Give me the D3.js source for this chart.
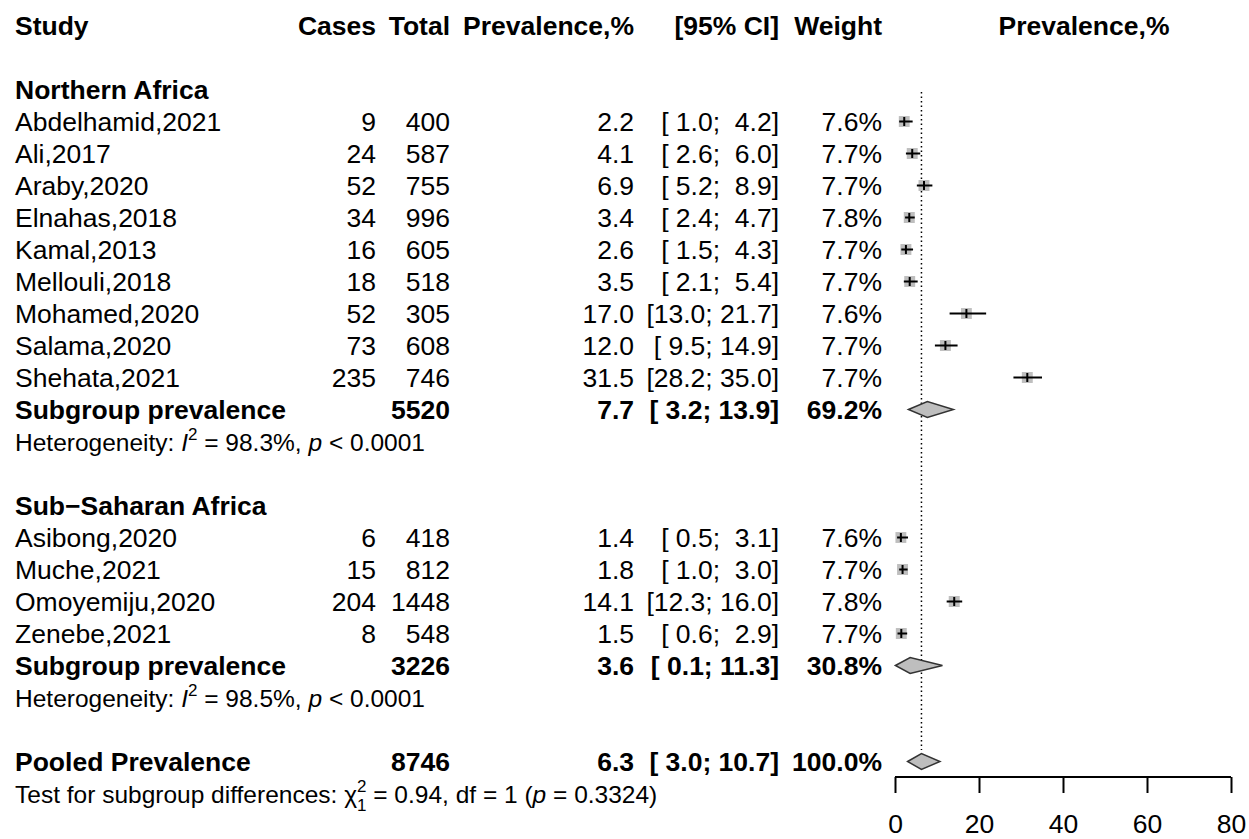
<!DOCTYPE html>
<html>
<head>
<meta charset="utf-8" />
<title>Forest plot</title>
<script src="https://d3js.org/d3.v7.min.js"></script>
<style>
  body { margin: 0; background: #fff; }
  text { font-family: "Liberation Sans", Arial, sans-serif; fill: #000; white-space: pre; }
</style>
</head>
<body>
<svg id="forest" width="1249" height="839"></svg>
<script>
// study data
var groups = ["Northern Africa", "Sub\u2212Saharan Africa"];
var studies = ["Abdelhamid,2021", "Ali,2017", "Araby,2020", "Elnahas,2018", "Kamal,2013",
  "Mellouli,2018", "Mohamed,2020", "Salama,2020", "Shehata,2021",
  "Asibong,2020", "Muche,2021", "Omoyemiju,2020", "Zenebe,2021"];
var studyGroup = [0, 0, 0, 0, 0, 0, 0, 0, 0, 1, 1, 1, 1];
var cases = [9, 24, 52, 34, 16, 18, 52, 73, 235, 6, 15, 204, 8];
var totals = [400, 587, 755, 996, 605, 518, 305, 608, 746, 418, 812, 1448, 548];
var prev = [2.2, 4.1, 6.9, 3.4, 2.6, 3.5, 17.0, 12.0, 31.5, 1.4, 1.8, 14.1, 1.5];
var lower = [1.0, 2.6, 5.2, 2.4, 1.5, 2.1, 13.0, 9.5, 28.2, 0.5, 1.0, 12.3, 0.6];
var upper = [4.2, 6.0, 8.9, 4.7, 4.3, 5.4, 21.7, 14.9, 35.0, 3.1, 3.0, 16.0, 2.9];
var weights = [7.6, 7.7, 7.7, 7.8, 7.7, 7.7, 7.6, 7.7, 7.7, 7.6, 7.7, 7.8, 7.7];

// subgroup summaries
var subTotal = [5520, 3226];
var subPrev = [7.7, 3.6];
var subLower = [3.2, 0.1];
var subUpper = [13.9, 11.3];
var subWeight = [69.2, 30.8];
var subI2 = ["98.3%", "98.5%"];
var subP = ["0.0001", "0.0001"];

// pooled
var pooled = { total: 8746, prev: 6.3, lower: 3.0, upper: 10.7, weight: 100.0 };
var testChi = "0.94", testDf = "1", testP = "0.3324";

var xTicks = [0, 20, 40, 60, 80];

var svg = d3.select("#forest");
var FS = 26.5;   // main table text
var FS2 = 24.5;  // heterogeneity / test lines

// row index -> y (row centre)
var y = d3.scaleLinear().domain([0, 24]).range([25.5, 793.5]);
var x = d3.scaleLinear().domain([0, 80]).range([895, 1231]);
var sq = d3.scaleSqrt().domain([0, 7.8]).range([0, 11]);

var colX = { study: 15, cases: 376, total: 450, prev: 634, ci: 779, weight: 882 };

function pad4(v) {
  var s = v.toFixed(1);
  while (s.length < 4) s = " " + s;
  return s;
}
function ciText(lo, hi) { return "[" + pad4(lo) + "; " + pad4(hi) + "]"; }

function txt(xp, row, str, anchor, bold, size) {
  return svg.append("text")
    .attr("x", xp)
    .attr("y", y(row) + 9)
    .attr("text-anchor", anchor || "start")
    .attr("font-weight", bold ? "bold" : "normal")
    .attr("font-size", size || FS)
    .text(str);
}

// header
txt(colX.study, 0, "Study", "start", true);
txt(colX.cases, 0, "Cases", "end", true);
txt(colX.total, 0, "Total", "end", true);
txt(colX.prev, 0, "Prevalence,%", "end", true);
txt(colX.ci, 0, "[95% CI]", "end", true);
txt(colX.weight, 0, "Weight", "end", true);
txt(1084, 0, "Prevalence,%", "middle", true);

// build rows
var rows = [];
var r = 2;
groups.forEach(function (g, gi) {
  rows.push({ type: "group", row: r++, label: g });
  studies.forEach(function (s, i) {
    if (studyGroup[i] !== gi) return;
    rows.push({ type: "study", row: r++, label: s, cases: cases[i], total: totals[i],
      prev: prev[i], lo: lower[i], hi: upper[i], w: weights[i] });
  });
  rows.push({ type: "summary", row: r++, label: "Subgroup prevalence", total: subTotal[gi],
    prev: subPrev[gi], lo: subLower[gi], hi: subUpper[gi], w: subWeight[gi] });
  rows.push({ type: "het", row: r++, i2: subI2[gi], p: subP[gi] });
  r++;
});
rows.push({ type: "summary", row: r++, label: "Pooled Prevalence", total: pooled.total,
  prev: pooled.prev, lo: pooled.lower, hi: pooled.upper, w: pooled.weight });
rows.push({ type: "test", row: r++ });

// reference line at pooled estimate
svg.append("line")
  .attr("x1", x(pooled.prev)).attr("x2", x(pooled.prev))
  .attr("y1", 92).attr("y2", 750)
  .attr("stroke", "#000").attr("stroke-width", 1.5)
  .attr("stroke-dasharray", "1.5,3");

rows.forEach(function (d) {
  if (d.type === "group") {
    txt(colX.study, d.row, d.label, "start", true);
  } else if (d.type === "study" || d.type === "summary") {
    var b = d.type === "summary";
    txt(colX.study, d.row, d.label, "start", b);
    if (!b) txt(colX.cases, d.row, String(d.cases), "end", b);
    txt(colX.total, d.row, String(d.total), "end", b);
    txt(colX.prev, d.row, d.prev.toFixed(1), "end", b);
    txt(colX.ci, d.row, ciText(d.lo, d.hi), "end", b);
    txt(colX.weight, d.row, d.w.toFixed(1) + "%", "end", b);
    var cy = y(d.row);
    if (!b) {
      var s = sq(d.w);
      svg.append("rect")
        .attr("x", x(d.prev) - s / 2).attr("y", cy - s / 2)
        .attr("width", s).attr("height", s)
        .attr("fill", "#bebebe");
      svg.append("line")
        .attr("x1", x(d.lo)).attr("x2", x(d.hi)).attr("y1", cy).attr("y2", cy)
        .attr("stroke", "#000").attr("stroke-width", 2);
      svg.append("line")
        .attr("x1", x(d.prev)).attr("x2", x(d.prev)).attr("y1", cy - 4.5).attr("y2", cy + 4.5)
        .attr("stroke", "#000").attr("stroke-width", 2);
    } else {
      var pts = [[x(d.lo), cy], [x(d.prev), cy - 8], [x(d.hi), cy], [x(d.prev), cy + 8]];
      svg.append("path")
        .attr("d", d3.line()(pts) + "Z")
        .attr("fill", "#bebebe").attr("stroke", "#333").attr("stroke-width", 1.5);
    }
  } else if (d.type === "het") {
    var t = txt(colX.study, d.row, "", "start", false, FS2);
    t.append("tspan").text("Heterogeneity: ");
    t.append("tspan").attr("font-style", "italic").text("I");
    t.append("tspan").attr("font-size", 17).attr("dy", -11).text("2");
    t.append("tspan").attr("dy", 11).text(" = " + d.i2 + ", ");
    t.append("tspan").attr("font-style", "italic").text("p");
    t.append("tspan").text(" < " + d.p);
  } else if (d.type === "test") {
    var t2 = txt(colX.study, d.row, "", "start", false, FS2);
    t2.append("tspan").text("Test for subgroup differences: ");
    t2.append("tspan").text("\u03c7");
    t2.append("tspan").attr("font-size", 17).attr("dy", -11).text("2");
    t2.append("tspan").attr("font-size", 17).attr("dx", -9.5).attr("dy", 19).text("1");
    t2.append("tspan").attr("dy", -8).text(" = " + testChi + ", df = " + testDf + " (");
    t2.append("tspan").attr("font-style", "italic").text("p");
    t2.append("tspan").text(" = " + testP + ")");
  }
});

// x axis
var axisY = 777;
var axis = d3.axisBottom(x).tickValues(xTicks).tickSize(16).tickPadding(21).tickSizeOuter(0);
var ax = svg.append("g").attr("transform", "translate(0," + axisY + ")").call(axis);
ax.select(".domain").attr("stroke", "#000").attr("stroke-width", 2).attr("d", "M" + x(0) + ",0H" + x(80));
ax.selectAll(".tick line").attr("stroke", "#000").attr("stroke-width", 2);
ax.selectAll(".tick text")
  .attr("font-family", "'Liberation Sans', Arial, sans-serif")
  .attr("font-size", FS).attr("fill", "#000");
</script>
</body>
</html>
